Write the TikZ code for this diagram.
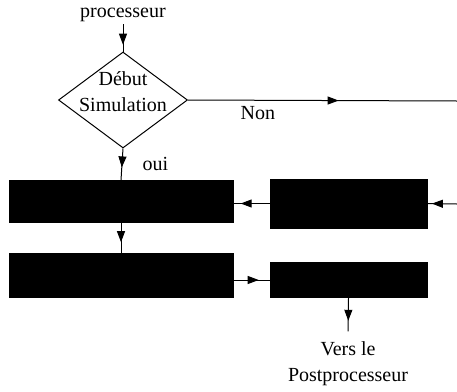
\documentclass[tikz,border=0pt]{standalone}
\usepackage{fontspec}
\setmainfont{Liberation Serif}
\usetikzlibrary{arrows.meta,shapes.geometric,decorations.markings}

\begin{document}
\begin{tikzpicture}[x=1pt,y=-1pt,line width=1pt,
  txt/.style={font=\fontsize{20}{26}\selectfont,inner sep=2pt,align=center},
  blackbox/.style={draw,fill=black,minimum width=#1},
  midarr/.style={postaction={decorate},decoration={markings,
    mark=at position #1 with {\arrow{Triangle[length=11pt,width=8pt]}}}}]
\useasboundingbox (0,0) rectangle (457,391);
\node[txt] (proc) at (123,15) {processeur};
\node[draw,diamond,minimum width=129pt,minimum height=96pt,inner sep=0pt] (debut) at (123,100) {};
\node[txt] (debtxt) at (123,92) {D\'ebut\\Simulation};
\node[blackbox=224pt,minimum height=42pt] (maj) at (121,201.5) {};
\node[blackbox=224pt,minimum height=44pt] (resol) at (121,275) {};
\node[blackbox=157pt,minimum height=49pt] (remail) at (348.5,203.5) {};
\node[blackbox=157pt,minimum height=35pt] (sortie) at (348.5,280) {};
\node[txt] (vers) at (348,364) {Vers le\\Postprocesseur};
\coordinate (outR) at (457,101);
\coordinate (inR) at (457,204);
% connecteurs
\draw[midarr=0.75] (proc.south) -- (debut.north);
\draw[midarr=0.56] (debut.east) -- (outR) node[txt,pos=0.26,below=4pt]{Non};
\draw[midarr=0.6] (debut.south) -- (maj.north) node[txt,pos=0.5,right=18pt]{oui};
\draw[midarr=0.65] (maj.south) -- (resol.north);
\draw[midarr=0.8] (remail.west) -- (maj.east |- remail.west);
\draw[midarr=0.85] (inR) -- (remail.east);
\draw[midarr=0.7] (resol.east |- sortie.west) -- (sortie.west);
\draw[midarr=0.55,shorten >=8pt] (sortie.south) -- (vers.north);
\end{tikzpicture}
\end{document}
